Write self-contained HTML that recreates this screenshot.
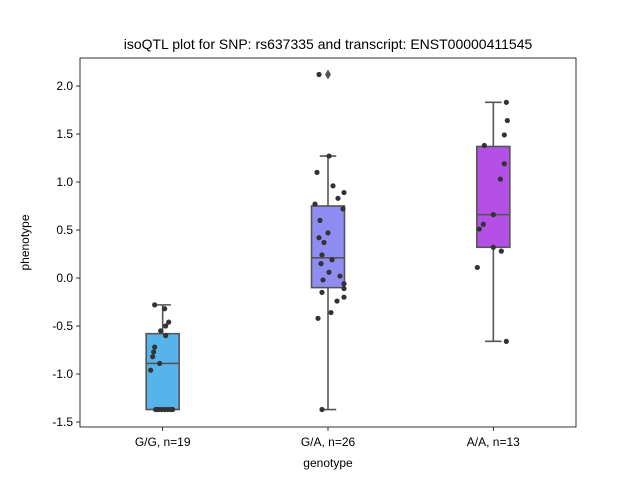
<!DOCTYPE html>
<html><head><meta charset="utf-8"><style>
body{margin:0;background:#fff;}
svg{display:block;font-family:"Liberation Sans","DejaVu Sans",sans-serif;}
</style></head><body>
<svg id="chart" width="640" height="480" viewBox="0 0 640 480"></svg>
<script>
const categories=["G/G, n=19","G/A, n=26","A/A, n=13"];
const colors=["#57b4ea","#8f8df2","#b450e6"];
const boxQ1=[-1.37,-0.10,0.32];
const boxQ3=[-0.58,0.75,1.37];
const medians=[-0.89,0.21,0.66];
const whiskLo=[-1.37,-1.37,-0.66];
const whiskHi=[-0.28,1.27,1.83];
const fliers=[[],[2.12],[]];
const pts0=[-0.28,-0.32,-0.46,-0.50,-0.55,-0.60,-0.72,-0.77,-0.82,-0.89,-0.96,-1.37,-1.37,-1.37,-1.37,-1.37,-1.37,-1.37,-1.37];
const jit0=[-8,2,6,3,-2,3,-8,-9,-10,-3,-12,-7,-4,-1,2,5,8,10,-5];
const pts1=[2.12,1.27,1.10,0.96,0.89,0.83,0.77,0.72,0.60,0.47,0.42,0.37,0.24,0.19,0.15,0.06,-0.02,0.02,-0.06,-0.11,-0.15,-0.20,-0.24,-0.36,-0.42,-1.37];
const jit1=[-9,1,-11,5,16,10,-13,15,-8,0,-9,-4,-6,4,-7,1,-5,12,16,16,-6,16,9,3,-10,-6];
const pts2=[1.83,1.64,1.49,1.38,1.19,1.03,0.66,0.56,0.51,0.32,0.28,0.11,-0.66];
const jit2=[13,14,11,-9,11,7,0,-10,-14,0,8,-16,13];
const yTicks=[-1.5,-1.0,-0.5,0.0,0.5,1.0,1.5,2.0];
const allPts=[pts0,pts1,pts2], allJit=[jit0,jit1,jit2];

const L=80,R=576,T=58,B=427;
const y=v=>278-v*96;
const x=i=>L+(R-L)*(i+0.5)/categories.length;
const NS="http://www.w3.org/2000/svg";
const svg=document.getElementById('chart');
function mk(tag,attrs,parent){const e=document.createElementNS(NS,tag);for(const k in attrs)e.setAttribute(k,attrs[k]);(parent||svg).appendChild(e);return e;}

const title=mk('text',{x:328,y:49,'text-anchor':'middle','font-size':14,fill:'#000'});


title.textContent="isoQTL plot for SNP: rs637335 and transcript: ENST00000411545";

yTicks.forEach(t=>{
  const g=mk('g',{});
  
  
  mk('line',{x1:L-4,x2:L,y1:y(t),y2:y(t),stroke:'#000','stroke-width':0.8},g);
  const tx=mk('text',{x:L-7,y:y(t)+4,'text-anchor':'end','font-size':12,fill:'#000'},g);
  tx.textContent=t.toFixed(1);
});
categories.forEach((c,i)=>{
  const g=mk('g',{});
  
  
  mk('line',{x1:x(i),x2:x(i),y1:B,y2:B+4,stroke:'#000','stroke-width':0.8},g);
  const tx=mk('text',{x:x(i),y:B+19,'text-anchor':'middle','font-size':12,fill:'#000'},g);
  tx.textContent=c;
});
const yl=mk('text',{x:29,y:(T+B)/2,'text-anchor':'middle','font-size':12,transform:`rotate(-90 29 ${(T+B)/2})`});


yl.textContent="phenotype";
const xl=mk('text',{x:328,y:467,'text-anchor':'middle','font-size':12});


xl.textContent="genotype";

const hw=16.5;
categories.forEach((c,i)=>{
  const g=mk('g',{});
  
  
  const cx=x(i),st={stroke:'#555','stroke-width':1.6};
  mk('line',Object.assign({x1:cx,x2:cx,y1:y(boxQ3[i]),y2:y(whiskHi[i])},st),g);
  mk('line',Object.assign({x1:cx,x2:cx,y1:y(boxQ1[i]),y2:y(whiskLo[i])},st),g);
  mk('line',Object.assign({x1:cx-hw/2,x2:cx+hw/2,y1:y(whiskHi[i]),y2:y(whiskHi[i])},st),g);
  mk('line',Object.assign({x1:cx-hw/2,x2:cx+hw/2,y1:y(whiskLo[i]),y2:y(whiskLo[i])},st),g);
  mk('rect',Object.assign({x:cx-hw,y:y(boxQ3[i]),width:2*hw,height:y(boxQ1[i])-y(boxQ3[i]),fill:colors[i]},st),g);
  mk('line',Object.assign({x1:cx-hw,x2:cx+hw,y1:y(medians[i]),y2:y(medians[i])},st),g);
  fliers[i].forEach(v=>{
    const d=mk('path',{d:`M${cx} ${y(v)-5}L${cx+3} ${y(v)}L${cx} ${y(v)+5}L${cx-3} ${y(v)}Z`,fill:'#555'},g);
    
    
  });
});
allPts.forEach((arr,i)=>{
  arr.forEach((v,j)=>{
    const p=mk('circle',{cx:x(i)+allJit[i][j],cy:y(v),r:2.6,fill:'#333'});
    
    
  });
});
const frame=mk('rect',{x:L,y:T,width:R-L,height:B-T,fill:'none',stroke:'#000','stroke-width':0.8});


</script>
</body></html>
